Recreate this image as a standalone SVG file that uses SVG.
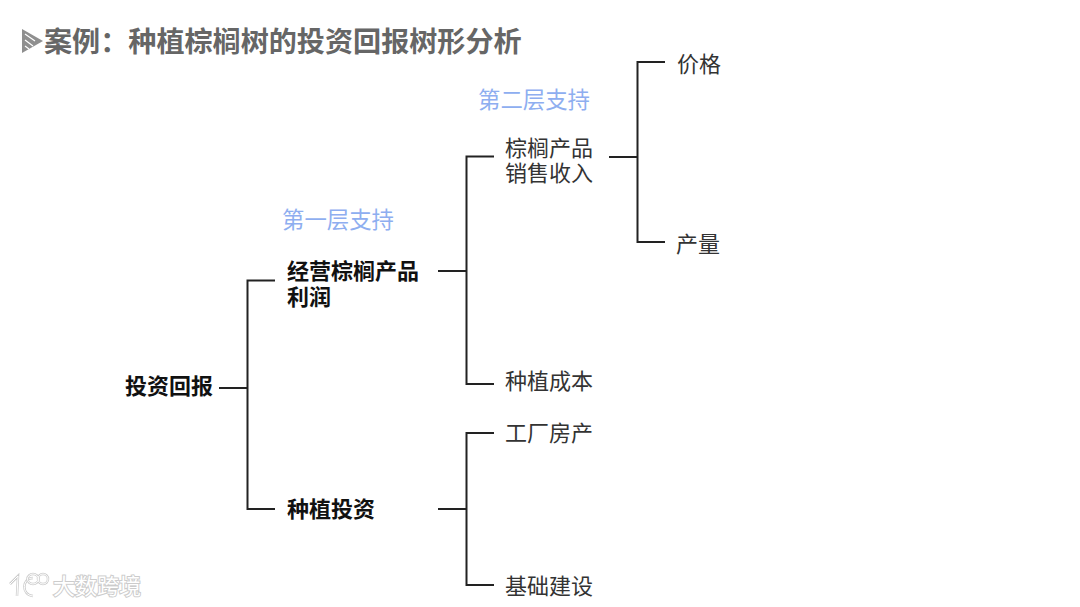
<svg xmlns="http://www.w3.org/2000/svg" width="1080" height="607" viewBox="0 0 1080 607">
<style>
text{font-family:"Noto Sans CJK SC","Liberation Sans",sans-serif}
.t{font-size:22px;fill:#333}
.b{font-size:22px;font-weight:700;fill:#111}
.s{font-size:22.4px;fill:#8eaef0}
.h{font-size:28.1px;font-weight:700;fill:#666}
.c{fill:none;stroke:#222;stroke-width:2}
.w{font-size:22px;fill:#fff;stroke:#ccc;stroke-width:2;paint-order:stroke}
.l{fill:none;stroke:#ccc;stroke-width:2.5}
.m{fill:none;stroke:#fff;stroke-width:1}
</style>
<rect width="1080" height="607" fill="#fff"/>
<g id="title">
<path d="M22 29L43 41L22 53Z" fill="#8f8f8f"/>
<path d="M25 34L35 41M25 40L33 46M25 46L29 49" stroke="#fff" stroke-width="1.2"/>
<text class="h" x="44" y="52">案例：种植棕榈树的投资回报树形分析</text>
</g>
<g id="connectors">
<path class="c" d="M219 388H247.500M275 280.500H247.500V509H275"/>
<path class="c" d="M438 271H466.500M494 156.500H466.500V384H494"/>
<path class="c" d="M438 509H466.500M494 433H466.500V585H494"/>
<path class="c" d="M609 157H637.500M665 62H637.500V242H665"/>
</g>
<g id="n-root"><text class="b" x="125" y="394">投资回报</text></g>
<g id="n-profit"><text class="b"><tspan x="287" y="279">经营棕榈产品</tspan><tspan x="287" y="305">利润</tspan></text></g>
<g id="n-invest"><text class="b" x="287" y="517">种植投资</text></g>
<g id="n-sales"><text class="t"><tspan x="505" y="156">棕榈产品</tspan><tspan x="505" y="181">销售收入</tspan></text></g>
<g id="n-cost"><text class="t" x="505" y="389">种植成本</text></g>
<g id="n-factory"><text class="t" x="505" y="441">工厂房产</text></g>
<g id="n-base"><text class="t" x="505" y="594">基础建设</text></g>
<g id="n-price"><text class="t" x="677" y="72">价格</text></g>
<g id="n-output"><text class="t" x="676" y="252">产量</text></g>
<g id="label-1"><text class="s" x="282" y="228">第一层支持</text></g>
<g id="label-2"><text class="s" x="478" y="108">第二层支持</text></g>
<g id="watermark">
<path class="l" d="M10 584L18 576L17 596M33 578C22 578 21 595 33 596"/>
<path class="m" d="M10 584L18 576L17 596M33 578C22 578 21 595 33 596"/>
<ellipse class="l" cx="33" cy="579" rx="5.500" ry="5"/>
<ellipse class="l" cx="43" cy="579" rx="5" ry="5"/>
<ellipse class="m" cx="33" cy="579" rx="5.500" ry="5"/>
<ellipse class="m" cx="43" cy="579" rx="5" ry="5"/>
<text class="w" x="53" y="594">大数跨境</text>
</g>
</svg>
